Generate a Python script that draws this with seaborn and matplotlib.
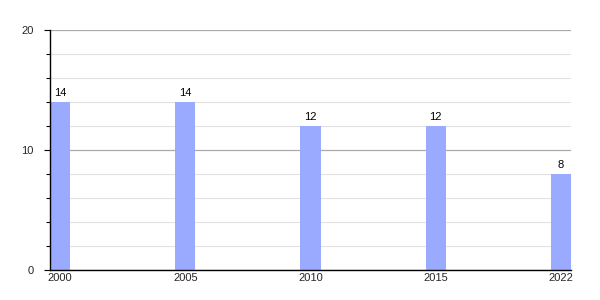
import matplotlib
matplotlib.use("Agg")
import matplotlib.pyplot as plt
import seaborn as sns
import pandas as pd
from matplotlib.ticker import MultipleLocator

years = ["2000", "2005", "2010", "2015", "2022"]
values = [14, 14, 12, 12, 8]

sns.set_style("white")
plt.rcParams['font.family'] = ['Liberation Sans', 'DejaVu Sans']

df = pd.DataFrame({"year": years, "value": values})

fig = plt.figure(figsize=(6, 3), dpi=100)
ax = fig.add_axes([50/600, 30/300, 521/600, 240/300])

sns.barplot(data=df, x="year", y="value", color="#99aaff", saturation=1,
            width=0.16, ax=ax, zorder=3, linewidth=0, edgecolor="none")

ax.set_xlim(-0.08, 4.08)
ax.set_ylim(0, 20)
ax.yaxis.set_major_locator(MultipleLocator(10))
ax.yaxis.set_minor_locator(MultipleLocator(2))
ax.grid(which="major", axis="y", color="#aaaaaa", linewidth=0.9, zorder=0)
ax.grid(which="minor", axis="y", color="#e2e2e2", linewidth=0.8, zorder=0)
ax.set_axisbelow(True)

for s in ["top", "right"]:
    ax.spines[s].set_visible(False)
for s in ["left", "bottom"]:
    ax.spines[s].set_color("black")
    ax.spines[s].set_linewidth(1.0)
    ax.spines[s].set_zorder(5)

ax.tick_params(axis="y", which="major", length=4, width=0.8, color="black",
               labelsize=8, pad=8, left=True)
ax.tick_params(axis="y", which="minor", length=3, width=0.8, color="black", left=True)
ax.tick_params(axis="x", length=0, labelsize=8, pad=2)
ax.set_xlabel("")
ax.set_ylabel("")

for i, v in enumerate(values):
    ax.text(i, v + 0.35, str(v), ha="center", va="bottom", fontsize=8, color="black")

fig.savefig("out.png", dpi=100)
